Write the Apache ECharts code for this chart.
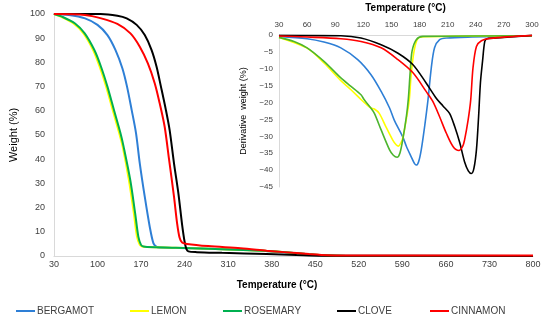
<!DOCTYPE html>
<html>
<head>
<meta charset="utf-8">
<script src="https://cdn.jsdelivr.net/npm/echarts@6/dist/echarts.min.js"></script>
<style>html,body{margin:0;padding:0;background:#fff}#c{width:550px;height:324px}</style>
</head>
<body>
<div id="c"></div>
<script>
// ---- Main TGA chart data: [Temperature °C, Weight %] ----
const seriesNames = ['BERGAMOT', 'LEMON', 'ROSEMARY', 'CLOVE', 'CINNAMON'];
const mainXTicks = [30, 100, 170, 240, 310, 380, 450, 520, 590, 660, 730, 800];
const insetXTicks = [30, 60, 90, 120, 150, 180, 210, 240, 270, 300];

const tgaBergamot = [[30,100],[54,99.6],[80,98.2],[100,95.5],[116,91.3],[129,85.1],[140,77.6],[147.5,70],[155,60.3],[162,50.7],[168,38.3],[176,24.5],[184,12.1],[190,5.2],[195,3.8],[200,3.5],[230,3.3],[278,3.0],[330,2.6],[370,2.1],[400,1.5],[440,0.7],[470,0.2],[500,0.05],[800,0.05]];
const tgaLemon = [[30,100],[41,98.9],[62,96],[77.5,92],[93,85.1],[103.5,78.2],[114,70],[124.5,60.3],[135,50.7],[140.5,45.2],[150.5,31.4],[158.5,17.6],[163.5,8],[168,4.6],[172,3.9],[180,3.7],[226,3.4],[278,3.0],[367,2.2],[400,1.6],[440,0.7],[470,0.2],[500,0.05],[800,0.05]];
const tgaRosemary = [[30,100],[43,98.9],[64,96.1],[79.5,92],[95,85.1],[105.7,78.2],[116,70],[126.5,60.3],[137,50.7],[142,45.2],[152.7,31.4],[160.6,17.6],[165.7,8],[170,4.6],[174,3.9],[180,3.7],[226,3.4],[278,3.0],[367,2.2],[400,1.6],[440,0.7],[470,0.2],[500,0.05],[800,0.05]];
const tgaClove = [[30,100],[105,100],[132,99.3],[147,98.2],[163,95.5],[176,91.3],[187,85.1],[195,78.2],[202,70],[210,60.3],[216,52],[223,38.3],[230,26],[236,13],[240,6],[243,2.8],[246,1.9],[260,1.6],[300,1.3],[372,0.8],[420,0.4],[460,0.1],[800,0.05]];
const tgaCinnamon = [[30,100],[80,99.6],[106,98.2],[132,95.9],[153,92],[168,86.5],[181,79.6],[192,71.4],[200,63.1],[208,53.4],[215,40],[223,24.5],[228,13.5],[232,7.5],[236,5.6],[244,5.0],[278,4.1],[330,3.2],[372,2.2],[400,1.6],[440,0.8],[470,0.3],[500,0.2],[800,0.2]];

// ---- Inset DTG chart data: [Temperature °C, Derivative weight %] ----
const dtgBergamot = [[30,-0.4],[60,-1.1],[78,-2.1],[96,-3.8],[114,-7.3],[128,-11.7],[139,-16.7],[148,-21.6],[153,-25.2],[162,-30.1],[166,-33],[171,-36],[174.5,-38],[176.5,-38.5],[179,-37.5],[181.8,-34],[185.4,-27.1],[189,-19.2],[192.5,-9.8],[196,-3.8],[201.4,-1.4],[208.6,-0.9],[236,-0.6],[300,-0.2]];
const dtgLemon = [[30,-0.7],[60,-3.9],[78,-8.3],[96,-13.5],[106.8,-16.2],[117.5,-19.1],[123,-20.5],[128,-21.6],[131.8,-21.9],[137,-23.2],[144,-27.1],[151.4,-31.1],[155,-32.5],[157.5,-32.9],[160,-32],[162,-30.6],[165.7,-25.2],[169,-19.2],[171,-12],[174,-5],[178,-1.1],[185,-0.5],[300,-0.2]];
const dtgRosemary = [[30,-0.7],[46,-1.9],[60,-3.8],[78,-7.8],[96,-12.7],[106.8,-15.2],[117.5,-17.7],[121,-19.2],[128,-21.6],[131.8,-23.2],[139,-28.1],[148,-34],[152,-35.6],[156,-36.2],[159,-35],[162,-31.1],[166,-24],[168,-19],[170,-11],[172,-4.8],[176.5,-1.4],[183.5,-0.4],[300,-0.2]];
const dtgClove = [[30,-0.1],[96,-0.2],[117.5,-0.9],[139,-2.9],[157,-5.4],[173,-8.8],[187,-14.2],[198,-18.8],[205,-21],[212,-23.2],[217.5,-27.1],[223,-32],[228,-37.5],[232,-40.2],[235.4,-41],[238,-39.5],[240.7,-34],[243,-24.2],[245,-14],[247.2,-7.8],[249.6,-1.9],[252,-1.1],[266,-0.8],[300,-0.1]];
const dtgCinnamon = [[30,-0.3],[60,-0.6],[96,-1.1],[117.5,-1.9],[139,-3.8],[157,-7.3],[173,-11.2],[187,-16.7],[194,-19.6],[201.4,-24.2],[208.6,-29.1],[215.7,-33],[222,-34.2],[226,-33],[228,-31.1],[231.8,-25.2],[234.6,-19.2],[237,-9.8],[240.7,-3.4],[246,-1.7],[255,-1],[300,-0.1]];

const mainColors = ['#2E7FD6', '#FFFF00', '#00B050', '#000000', '#FF0000'];
const insetColors = ['#2E7FD6', '#FFFF00', '#4CB52E', '#000000', '#FF0000'];
const tgaData = [tgaBergamot, tgaLemon, tgaRosemary, tgaClove, tgaCinnamon];
const dtgData = [dtgBergamot, dtgLemon, dtgRosemary, dtgClove, dtgCinnamon];

const FONT = 'Liberation Sans, Arial, sans-serif';
const labelColor = '#404040';
const axisLineColor = '#D9D9D9';

const chart = echarts.init(document.getElementById('c'), null, {renderer: 'canvas'});

const series = [];
seriesNames.forEach((n, i) => {
  series.push({
    name: n, type: 'line', xAxisIndex: 0, yAxisIndex: 0,
    data: tgaData[i], showSymbol: false, symbol: 'none',
    smooth: 0.3,
    lineStyle: {color: mainColors[i], width: 2}, itemStyle: {color: mainColors[i]},
    animation: false
  });
});
seriesNames.forEach((n, i) => {
  series.push({
    name: n + ' DTG', type: 'line', xAxisIndex: 1, yAxisIndex: 1,
    data: dtgData[i], showSymbol: false, symbol: 'none',
    smooth: 0.3,
    lineStyle: {color: insetColors[i], width: 1.6}, itemStyle: {color: insetColors[i]},
    animation: false
  });
});

const legendLefts = [16, 130, 223, 337, 430];
const legends = seriesNames.map((n, i) => ({
  data: [n], left: legendLefts[i], top: 306, padding: 0,
  icon: 'rect', itemWidth: 19, itemHeight: 2,
  textStyle: {fontFamily: FONT, fontSize: 10, color: labelColor, padding: [0, 0, 0, -3]},
  selectedMode: false
}));

chart.setOption({
  animation: false,
  backgroundColor: '#fff',
  title: [{
    text: 'Temperature (°C)', left: 272, top: 275, textAlign: 'center',
    textStyle: {fontFamily: FONT, fontSize: 10, fontWeight: 'bold', color: '#000'}
  }],
  legend: legends,
  grid: [
    {left: 41.7, right: 17, top: 14, bottom: 68},
    {left: 279, right: 18, top: 35, bottom: 137}
  ],
  xAxis: [
    {
      type: 'value', gridIndex: 0, min: 30, max: 800,
      axisLine: {lineStyle: {color: axisLineColor}}, axisTick: {show: false},
      splitLine: {show: false},
      axisLabel: {customValues: mainXTicks, fontFamily: FONT, fontSize: 9, color: labelColor, margin: 4}
    },
    {
      type: 'value', gridIndex: 1, position: 'top', min: 30, max: 300, interval: 30,
      axisLine: {lineStyle: {color: axisLineColor}}, axisTick: {show: false},
      splitLine: {show: false},
      axisLabel: {fontFamily: FONT, fontSize: 8, color: labelColor, margin: 6},
      name: 'Temperature (°C)', nameLocation: 'middle', nameGap: 22,
      nameTextStyle: {fontFamily: FONT, fontSize: 10, fontWeight: 'bold', color: '#000'}
    }
  ],
  yAxis: [
    {
      type: 'value', gridIndex: 0, min: 0, max: 100, interval: 10,
      axisLine: {show: true, lineStyle: {color: axisLineColor}}, axisTick: {show: false},
      splitLine: {show: false},
      axisLabel: {fontFamily: FONT, fontSize: 9, color: labelColor, margin: 9},
      name: 'Weight (%)', nameLocation: 'middle', nameGap: 28,
      nameTextStyle: {fontFamily: FONT, fontSize: 11, color: '#000'}
    },
    {
      type: 'value', gridIndex: 1, min: -45, max: 0, interval: 5,
      axisLine: {show: true, lineStyle: {color: axisLineColor}}, axisTick: {show: false},
      splitLine: {show: false},
      axisLabel: {fontFamily: FONT, fontSize: 8, color: labelColor, margin: 6,
        formatter: v => String(v).replace('-', '\u2212')},
      name: 'Derivative  weight (%)', nameLocation: 'middle', nameGap: 31,
      nameTextStyle: {fontFamily: FONT, fontSize: 9, color: '#000'}
    }
  ],
  series: series
});
</script>
</body>
</html>
